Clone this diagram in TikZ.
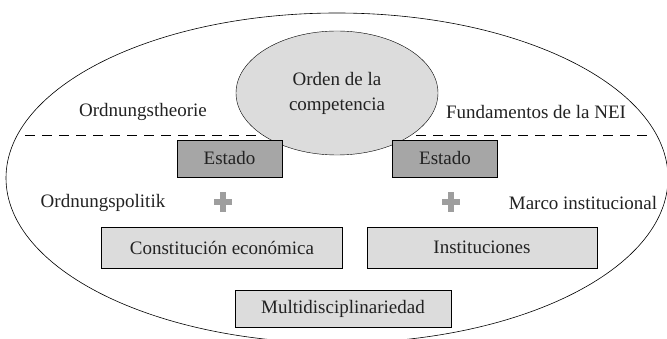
\documentclass[tikz,border=0pt]{standalone}
\usepackage{fontspec}
\setmainfont{Liberation Serif}
\usetikzlibrary{positioning,shapes.geometric}
\definecolor{grisclaro}{HTML}{DCDCDC}
\definecolor{grisoscuro}{HTML}{A6A6A6}
\definecolor{grismas}{HTML}{9E9E9E}
\definecolor{tinta}{HTML}{222222}
\tikzset{
  caja/.style={draw,thin,fill=grisclaro,inner sep=0pt},
  estadobox/.style={draw,thin,fill=grisoscuro,minimum width=105pt,minimum height=37pt,inner sep=0pt},
  rotulo/.style={inner sep=0pt},
}
\begin{document}
\begin{tikzpicture}[x=1pt,y=-1pt,font=\fontsize{19}{25}\selectfont,text=tinta]
    \useasboundingbox (0,0) rectangle (667,339);
    % elipse exterior
    \draw[semithick] (337,178) ellipse [x radius=331,y radius=165];
    % linea de separacion
    \draw[thin,dashed,dash pattern=on 10pt off 7pt] (25,135) -- (652,135);
    % orden de la competencia
    \node[draw,thin,fill=grisclaro,ellipse,minimum width=202pt,minimum height=124pt,inner sep=0pt,
      align=center] (orden) at (337,93) {Orden de la\\competencia};
    \node[rotulo] (theorie) at (143,112) {Ordnungstheorie};
    \node[rotulo] (nei) at (536,112) {Fundamentos de la NEI};
    % estado
    \node[estadobox] (estadoI) at (229.5,158.5) {Estado};
    \node[estadobox] (estadoD) at (445,158.5) {Estado};
    \foreach \px/\nm in {223/masI,451/masD}{
      \fill[grismas] (\px-9,199) rectangle (\px+9,205);
      \fill[grismas] (\px-3,192) rectangle (\px+3,212);
    }
    \node[rotulo] (politik) at (103,203) {Ordnungspolitik};
    \node[rotulo] (marco) at (583,203) {Marco institucional};
    % cajas inferiores
    \node[caja,minimum width=241pt,minimum height=41pt] (constitucion) at (222,247.5) {Constitución económica};
    \node[caja,minimum width=230pt,minimum height=41pt] (instituciones) at (482,247.5) {Instituciones};
    \node[caja,minimum width=216pt,minimum height=37pt] (multi) at (343,308.5) {Multidisciplinariedad};
\end{tikzpicture}
\end{document}
